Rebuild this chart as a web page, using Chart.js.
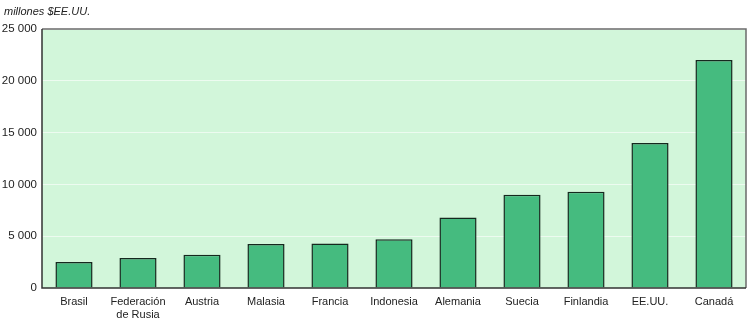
<!DOCTYPE html>
<html><head><meta charset="utf-8">
<script src="https://cdn.jsdelivr.net/npm/chart.js@4/dist/chart.umd.min.js"></script>
<style>html,body{margin:0;padding:0;background:#fff}#w{width:750px;height:320px}</style>
</head><body><div id="w"><canvas id="c" width="750" height="320"></canvas></div>
<script>
const categories = ["Brasil", ["Federación","de Rusia"], "Austria", "Malasia", "Francia", "Indonesia", "Alemania", "Suecia", "Finlandia", "EE.UU.", "Canadá"];
const values = [2500, 2900, 3200, 4250, 4300, 4700, 6800, 9000, 9300, 14000, 22000];
const yTicks = [0, 5000, 10000, 15000, 20000, 25000];
const unitLabel = "millones $EE.UU.";

const fmt = v => v === 0 ? "0" : String(v).replace(/\B(?=(\d{3})+(?!\d))/g, " ");

const bgPlugin = {
  id: 'bg',
  beforeDraw(chart) {
    const {ctx, chartArea: a} = chart;
    ctx.save();
    ctx.fillStyle = '#d2f6da';
    ctx.fillRect(a.left, a.top, a.right - a.left, a.bottom - a.top);
    ctx.restore();
  },
  afterDraw(chart) {
    const {ctx, chartArea: a} = chart;
    ctx.save();
    ctx.strokeStyle = '#6b6b6b';
    ctx.lineWidth = 1.5;
    ctx.beginPath();
    ctx.moveTo(a.left, a.top); ctx.lineTo(a.right, a.top); ctx.lineTo(a.right, a.bottom);
    ctx.stroke();
    ctx.strokeStyle = '#333';
    ctx.lineWidth = 1.5;
    ctx.beginPath();
    ctx.moveTo(a.left, a.top); ctx.lineTo(a.left, a.bottom); ctx.lineTo(a.right, a.bottom);
    ctx.stroke();
    ctx.fillStyle = '#222';
    ctx.font = 'italic 11px "Liberation Sans", Arial, sans-serif';
    ctx.textBaseline = 'middle';
    ctx.fillText(unitLabel, 4, 12);
    ctx.restore();
  }
};

new Chart(document.getElementById('c'), {
  type: 'bar',
  data: {
    labels: categories,
    datasets: [{
      data: values,
      backgroundColor: '#45bb7f',
      borderColor: '#15281e',
      borderWidth: 1.5,
      borderSkipped: 'bottom',
      categoryPercentage: 1,
      barPercentage: 0.58
    }]
  },
  options: {
    responsive: false,
    animation: false,
    layout: { padding: { top: 29, right: 4, left: 0, bottom: 0 } },
    plugins: { legend: { display: false }, tooltip: { enabled: false }, title: { display: false } },
    scales: {
      x: {
        grid: { display: false, drawTicks: false },
        border: { display: false },
        ticks: { color: '#222', font: { family: '"Liberation Sans", Arial, sans-serif', size: 11 }, padding: 7, maxRotation: 0, autoSkip: false },
        afterFit(s) { s.height = 32; }
      },
      y: {
        min: 0, max: 25000,
        afterBuildTicks(s) { s.ticks = yTicks.map(v => ({ value: v })); },
        grid: { color: 'rgba(255,255,255,0.6)', lineWidth: 1, drawTicks: false },
        border: { display: false },
        ticks: { color: '#222', font: { family: '"Liberation Sans", Arial, sans-serif', size: 11.5 }, padding: 5, callback: v => fmt(v) },
        afterFit(s) { s.width = 42; }
      }
    }
  },
  plugins: [bgPlugin]
});
</script>
</body></html>
